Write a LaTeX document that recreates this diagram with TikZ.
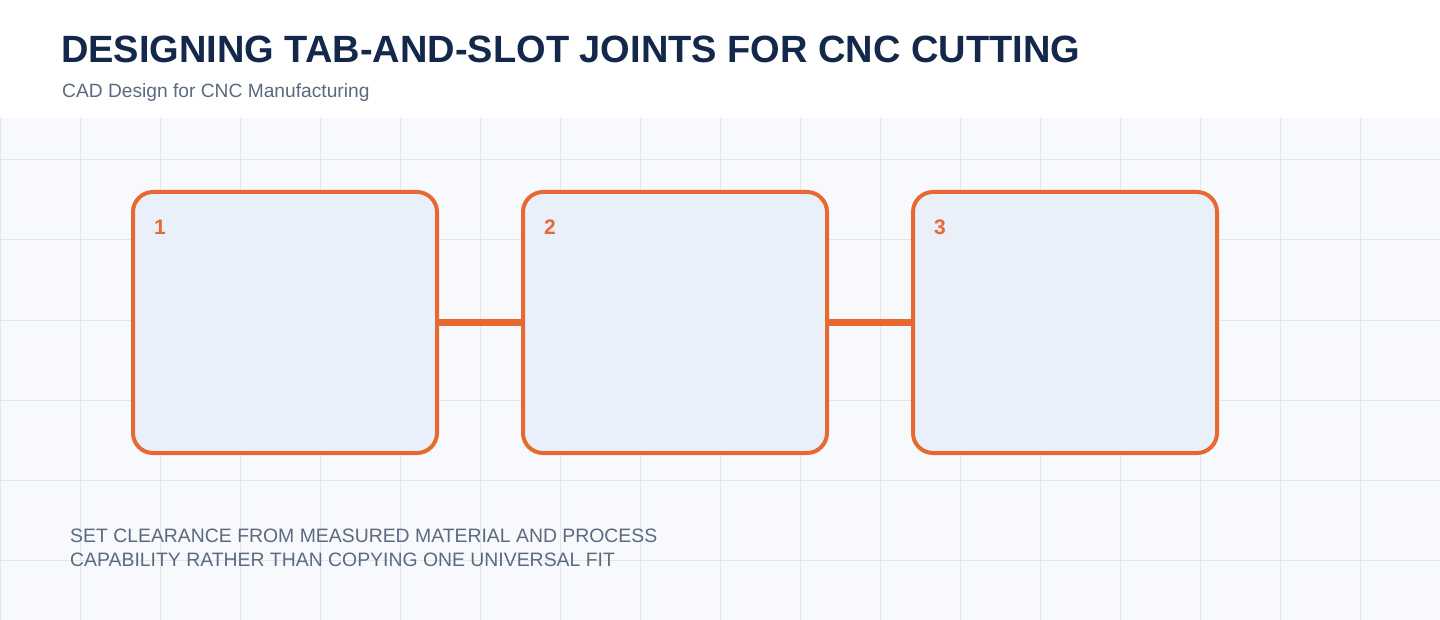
\documentclass[tikz,border=0pt]{standalone}
\usepackage{fontspec}
\setmainfont{Liberation Sans}
\usetikzlibrary{positioning}

\definecolor{navy}{HTML}{13284A}
\definecolor{slate}{HTML}{5B6A80}
\definecolor{cutorange}{HTML}{E8692F}
\definecolor{panelfill}{HTML}{E9F0FA}
\definecolor{sheet}{HTML}{F7F9FC}
\definecolor{gridgray}{HTML}{E2E6EC}

\tikzset{
  stage/.style={draw=cutorange, line width=4pt, fill=panelfill, rounded corners=20pt,
    minimum width=304pt, minimum height=261pt, inner sep=0pt},
  stagenum/.style={text=cutorange, font=\fontsize{21}{21}\selectfont\bfseries, anchor=west, inner sep=0pt},
  link/.style={draw=cutorange, line width=6.5pt}
}

\begin{document}
\begin{tikzpicture}[x=1pt,y=-1pt]

	\useasboundingbox (0,0) rectangle (1440,620);
	\fill[white] (0,0) rectangle (1440,118);
	\fill[sheet] (0,118) rectangle (1440,620);
	
	% grid
	\foreach \x in {0,80,...,1440}
	\draw[gridgray, line width=1pt] (\x,118) -- (\x,620);
	\foreach \y in {160,240,...,560}
	\draw[gridgray, line width=1pt] (0,\y) -- (1440,\y);
	
	% heading
	\node[anchor=base west, inner sep=0pt, text=navy, font=\fontsize{38}{38}\selectfont\bfseries] (title) at (61,63) {DESIGNING TAB-AND-SLOT JOINTS FOR CNC CUTTING};
	\node[anchor=base west, inner sep=0pt, text=slate, font=\fontsize{19.2}{19.2}\selectfont] (subtitle) at (62,98) {CAD Design for CNC Manufacturing};
	
	% stages
	\node[stage] (s1) at (285,322.5) {};
	\node[stage] (s2) at (675,322.5) {};
	\node[stage] (s3) at (1065,322.5) {};
	
	% links
	\draw[link] (s1.east) -- (s2.west);
	\draw[link] (s2.east) -- (s3.west);
	
	\node[stagenum] (n1) at ([shift={(23,37)}]s1.north west) {1};
	\node[stagenum] (n2) at ([shift={(23,37)}]s2.north west) {2};
	\node[stagenum] (n3) at ([shift={(23,37)}]s3.north west) {3};
	
	% note
	\node[anchor=north west, inner sep=0pt, text=slate, align=left, font=\fontsize{19.4}{23.5}\selectfont] (note) at (70,529) {SET CLEARANCE FROM MEASURED MATERIAL AND PROCESS\\CAPABILITY RATHER THAN COPYING ONE UNIVERSAL FIT};

\end{tikzpicture}
\end{document}
